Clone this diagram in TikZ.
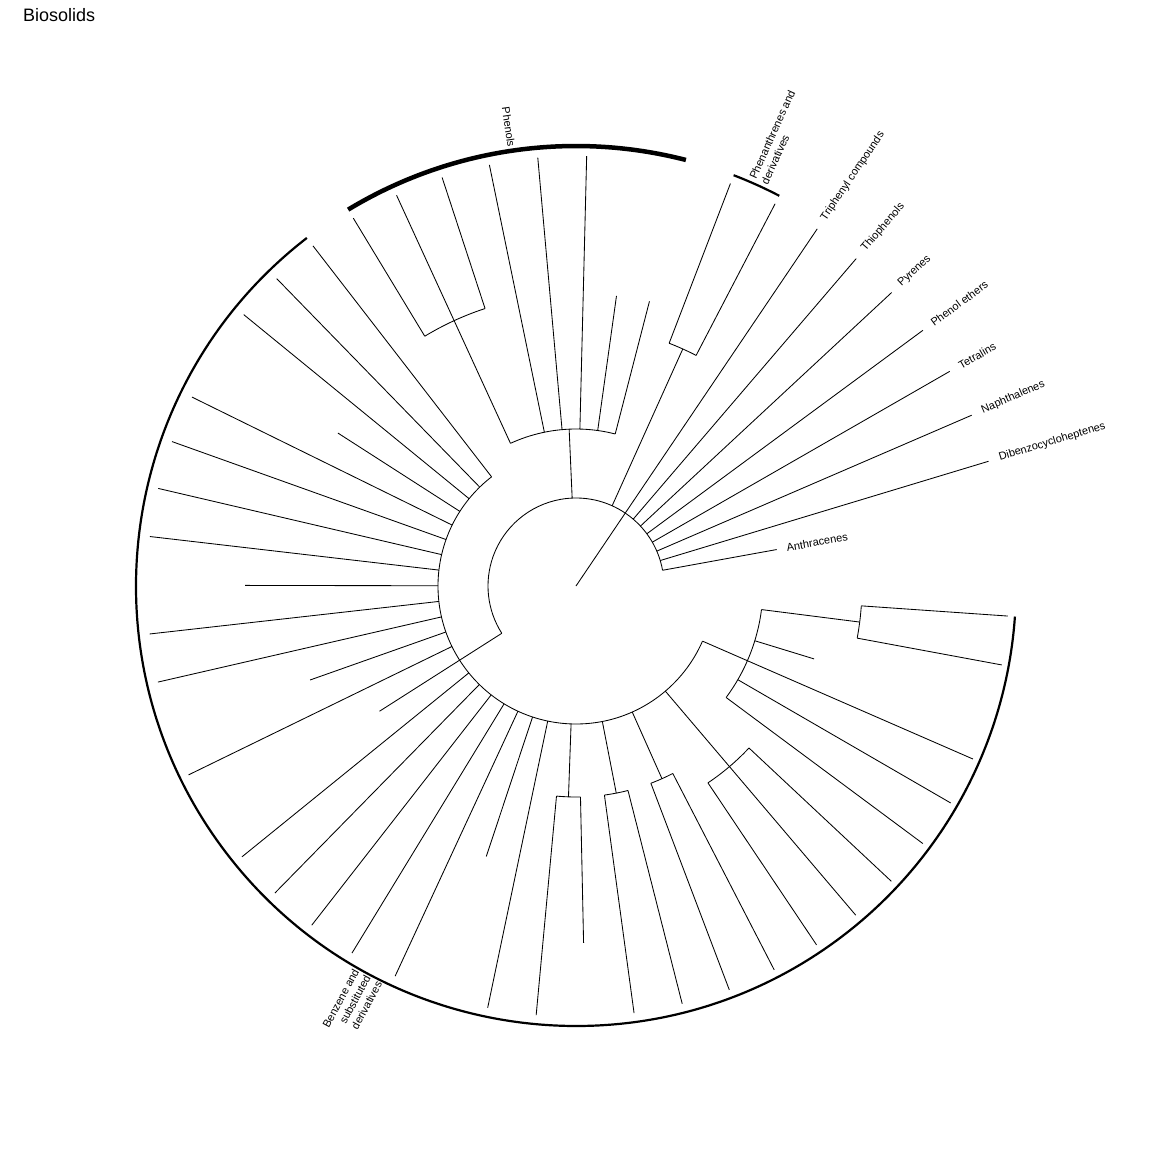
\documentclass[tikz,border=0pt]{standalone}
\usepackage{fontspec}
\setmainfont{Liberation Sans}
\newcommand\kang[1]{(10.3+6.523*(#1))}
\newcommand\rline[3]{\draw[branch] ({#1}:#2pt) -- ({#1}:#3pt);}
\newcommand\rarc[3]{\draw[branch] ({#2}:#1pt) arc[start angle={#2}, end angle={#3}, radius=#1pt];}
\begin{document}
\begin{tikzpicture}[x=1pt,y=1pt,
  branch/.style={line width=0.85pt},
  cladebar/.style={line width=2.2pt},
  lbl/.style={font=\fontsize{11}{13}\selectfont, inner sep=0pt},
  tiplabel/.style={lbl, anchor=west}]
\useasboundingbox (-576,-566) rectangle (576,586);
\node[anchor=base west, inner sep=0pt, font=\fontsize{18}{20}\selectfont] (title) at (-553,564) {Biosolids};
% tip joined to the root
\rline{\kang{7}}{0}{431}
% first inner node
\rarc{88}{\kang{0}}{\kang{31}}
\rline{\kang{0}}{88}{204}
\foreach \q in {1,...,6} {\rline{\kang{\q}}{88}{431}}
% phenanthrenes
\rline{\kang{8.5}}{88}{260}
\rarc{260}{\kang{8}}{\kang{9}}
\rline{\kang{8}}{260}{431}
\rline{\kang{9}}{260}{431}
% phenols
\rline{92.5}{88}{157}
\rarc{157}{\kang{10}}{\kang{16}}
\rline{\kang{10}}{157}{294}
\rline{\kang{11}}{157}{293}
\foreach \q in {12,13,14} {\rline{\kang{\q}}{157}{430}}
\rline{\kang{16}}{157}{292}
\rarc{292}{\kang{15}}{\kang{17}}
\foreach \q in {15,16,17} {\rline{\kang{\q}}{292}{430}}
% benzene clade
\rline{\kang{31}}{88}{138}
\rarc{138}{\kang{18}}{\kang{50}}
\foreach \q/\r in {18/430,19/429,20/429,21/283,22/428,23/429,24/429,25/429,26/331,27/429,28/429,29/282,30/431,31/233,32/430,33/430,34/430,35/430,36/430,37/285,38/431,46/432,50/433}
  {\rline{\kang{\q}}{138}{\r}}
% sub node A
\rline{\kang{39.5}}{138}{211}
\rarc{211}{\kang{39}}{\kang{40}}
\rline{\kang{39}}{211}{431}
\rline{\kang{40}}{211}{357}
% sub node B
\rline{\kang{41.5}}{138}{211}
\rarc{211}{\kang{41}}{\kang{42}}
\rline{\kang{41}}{211}{431}
\rline{\kang{42}}{211}{431}
% sub node C
\rline{\kang{43.5}}{138}{211}
\rarc{211}{\kang{43}}{\kang{44}}
\rline{\kang{43}}{211}{432}
\rline{\kang{44}}{211}{432}
% sub node D
\rarc{237}{\kang{45}}{\kang{47}}
\rline{\kang{45}}{237}{432}
\rline{\kang{47}}{237}{432}
% sub node E
\rarc{187}{\kang{48}}{\kang{52.5}}
\rline{\kang{48}}{187}{432}
\rline{\kang{49}}{187}{433}
\rline{\kang{51}}{187}{249}
\rline{\kang{52.5}}{187}{286}
\rarc{286}{\kang{52}}{\kang{53}}
\rline{\kang{52}}{286}{433}
\rline{\kang{53}}{286}{433}
% clade bars
\draw[line width=4.5pt] ({\kang{10}}:440pt) arc[start angle={\kang{10}}, end angle={\kang{17}}, radius=440pt];
\draw[cladebar] ({\kang{8}}:440pt) arc[start angle={\kang{8}}, end angle={\kang{9}}, radius=440pt];
\draw[cladebar] ({\kang{18}}:440pt) arc[start angle={\kang{18}}, end angle={\kang{53}}, radius=440pt];
% clade labels
\node[lbl, anchor=east, rotate=-81.65] (lphenols) at (98.35:444pt) {Phenols};
\node[lbl, anchor=west, rotate=65.75, align=left] (lphen) at (65.75:444pt) {Phenanthrenes and\\derivatives};
\node[lbl, anchor=east, rotate=61.87, align=right] (lbenz) at (241.87:442pt) {Benzene and\\substituted\\derivatives};
% tip labels
\node[tiplabel, rotate={\kang{0}}] (t0) at ({\kang{0}}:214pt) {Anthracenes};
\node[tiplabel, rotate={\kang{1}}] (t1) at ({\kang{1}}:442pt) {Dibenzocycloheptenes};
\node[tiplabel, rotate={\kang{2}}] (t2) at ({\kang{2}}:442pt) {Naphthalenes};
\node[tiplabel, rotate={\kang{3}}] (t3) at ({\kang{3}}:442pt) {Tetralins};
\node[tiplabel, rotate={\kang{4}}] (t4) at ({\kang{4}}:442pt) {Phenol ethers};
\node[tiplabel, rotate={\kang{5}}] (t5) at ({\kang{5}}:442pt) {Pyrenes};
\node[tiplabel, rotate={\kang{6}}] (t6) at ({\kang{6}}:442pt) {Thiophenols};
\node[tiplabel, rotate={\kang{7}}] (t7) at ({\kang{7}}:442pt) {Triphenyl compounds};
\end{tikzpicture}
\end{document}
